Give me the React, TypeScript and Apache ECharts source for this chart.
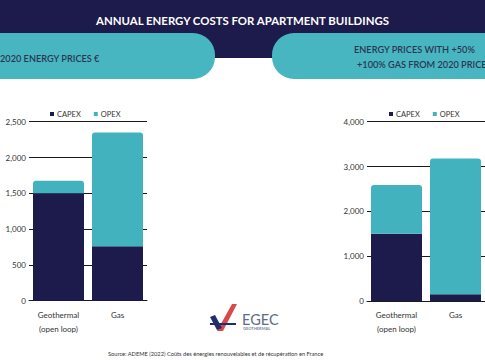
import React, { useEffect, useRef } from "react";
import * as echarts from "echarts";

const categories = ["Geothermal\n(open loop)", "Gas"];
const seriesNames = ["CAPEX", "OPEX"];
const capex2020 = [1500, 760];
const opex2020 = [175, 1590];
const capexHigh = [1500, 150];
const opexHigh = [1090, 3030];
const leftAxis = { max: 2500, interval: 500 };
const rightAxis = { max: 4000, interval: 1000 };

const NAVY = "#1c1b4b";
const TEAL = "#42b3be";
const PILL = "#47b6c1";
const FONT = "Lato, 'Open Sans', sans-serif";

const fmt = (v: number) => v.toLocaleString("en-US");

export default function App() {
  const ref = useRef<HTMLDivElement>(null);
  useEffect(() => {
    if (!ref.current) return;
    const chart = echarts.init(ref.current, undefined, { renderer: "svg" });
    const yAxisCommon = {
      type: "value" as const,
      min: 0,
      axisLine: { show: false },
      axisTick: { show: false },
      splitLine: { lineStyle: { color: "#1a1a1a", width: 1 } },
      axisLabel: { color: "#333", fontSize: 8, fontFamily: FONT, formatter: fmt, margin: 3 },
    };
    const xAxisCommon = {
      type: "category" as const,
      data: categories,
      axisTick: { show: false },
      axisLine: { lineStyle: { color: "#1a1a1a", width: 1 } },
      axisLabel: { color: "#333", fontSize: 8, fontFamily: FONT, margin: 7, lineHeight: 14 },
    };
    const legendCommon = {
      data: seriesNames,
      icon: "rect",
      itemWidth: 4,
      itemHeight: 4,
      itemGap: 13,
      top: 105,
      textStyle: { color: "#333", fontSize: 7.5, fontFamily: FONT, padding: [0, 0, 0, -2] },
    };
    const barCommon = { type: "bar" as const, barWidth: 51 };
    const logoLineTop = {
      type: "linear", x: 0, y: 0, x2: 1, y2: 0,
      colorStops: [
        { offset: 0, color: "#8c96a6" },
        { offset: 0.45, color: "#c9504e" },
        { offset: 0.7, color: "#3a78b5" },
        { offset: 1, color: "#3a78b5" },
      ],
    };
    const logoLineBottom = {
      type: "linear", x: 0, y: 0, x2: 1, y2: 0,
      colorStops: [
        { offset: 0, color: "#3a78b5" },
        { offset: 0.3, color: "#3a78b5" },
        { offset: 0.55, color: "#c9504e" },
        { offset: 1, color: "#8c96a6" },
      ],
    };
    const pillText = { align: "left", verticalAlign: "middle", fill: "#2c3654", fontSize: 9.2, fontWeight: 600, fontFamily: FONT };
    chart.setOption({
      animation: false,
      backgroundColor: "#ffffff",
      grid: [
        { left: 29, width: 118, top: 121.7, bottom: 59.3 },
        { left: 367, width: 120, top: 121.7, bottom: 59 },
      ],
      xAxis: [
        { ...xAxisCommon, gridIndex: 0 },
        { ...xAxisCommon, gridIndex: 1 },
      ],
      yAxis: [
        { ...yAxisCommon, gridIndex: 0, max: leftAxis.max, interval: leftAxis.interval },
        { ...yAxisCommon, gridIndex: 1, max: rightAxis.max, interval: rightAxis.interval },
      ],
      legend: [
        { ...legendCommon, left: 45 },
        { ...legendCommon, left: 384 },
      ],
      series: [
        { ...barCommon, name: seriesNames[0], stack: "a", xAxisIndex: 0, yAxisIndex: 0, data: capex2020, itemStyle: { color: NAVY } },
        { ...barCommon, name: seriesNames[1], stack: "a", xAxisIndex: 0, yAxisIndex: 0, data: opex2020, itemStyle: { color: TEAL, borderRadius: [3, 3, 0, 0] } },
        { ...barCommon, name: seriesNames[0], stack: "b", xAxisIndex: 1, yAxisIndex: 1, data: capexHigh, itemStyle: { color: NAVY } },
        { ...barCommon, name: seriesNames[1], stack: "b", xAxisIndex: 1, yAxisIndex: 1, data: opexHigh, itemStyle: { color: TEAL, borderRadius: [3, 3, 0, 0] } },
      ],
      graphic: [
        { type: "rect", shape: { x: 0, y: 0, width: 485, height: 58 }, style: { fill: NAVY } },
        { type: "rect", shape: { x: -40, y: 33, width: 255, height: 46, r: 22 }, style: { fill: PILL } },
        { type: "rect", shape: { x: 272, y: 33, width: 260, height: 46, r: 22 }, style: { fill: PILL } },
        {
          type: "text",
          style: { text: "ANNUAL ENERGY COSTS FOR APARTMENT BUILDINGS", x: 242.5, y: 20, align: "center", verticalAlign: "middle", fill: "#ffffff", fontSize: 11.4, fontWeight: "bold", fontFamily: FONT },
        },
        { type: "text", style: { ...pillText, text: "2020 ENERGY PRICES €", x: 0, y: 58 } },
        { type: "text", style: { ...pillText, text: "ENERGY PRICES WITH +50%", x: 354, y: 49 } },
        { type: "text", style: { ...pillText, text: "+100% GAS FROM 2020 PRICES", x: 357, y: 64 } },
        { type: "line", shape: { x1: 199, y1: 296.5, x2: 293, y2: 296.5 }, style: { stroke: logoLineTop, lineWidth: 2 } },
        { type: "line", shape: { x1: 199, y1: 341, x2: 292, y2: 341 }, style: { stroke: logoLineBottom, lineWidth: 2 } },
        { type: "polygon", shape: { points: [[217, 331], [223, 331], [237, 304], [232, 304]] }, style: { fill: "#d84a4a" } },
        { type: "polygon", shape: { points: [[210, 317], [215, 315], [222, 328], [217, 330]] }, style: { fill: "#1f2f6b" } },
        { type: "rect", shape: { x: 210, y: 323, width: 26, height: 2 }, style: { fill: "#1f2f6b" } },
        {
          type: "text",
          style: { text: "EGEC", x: 242, y: 319, align: "left", verticalAlign: "middle", fill: "#5e6b86", fontSize: 14.5, fontFamily: FONT },
        },
        {
          type: "text",
          style: { text: "GEOTHERMAL", x: 243, y: 328.5, align: "left", verticalAlign: "middle", fill: "#7a8598", fontSize: 4, fontWeight: "bold", fontFamily: FONT },
        },
        {
          type: "text",
          style: { text: "Source: ADEME (2022) Coûts des énergies renouvelables et de récupération en France", x: 108, y: 353, align: "left", verticalAlign: "middle", fill: "#333", fontSize: 5.7, fontFamily: FONT },
        },
      ],
    });
    return () => chart.dispose();
  }, []);
  return <div ref={ref} style={{ position: "fixed", left: 0, top: 0, width: 485, height: 360 }} />;
}
